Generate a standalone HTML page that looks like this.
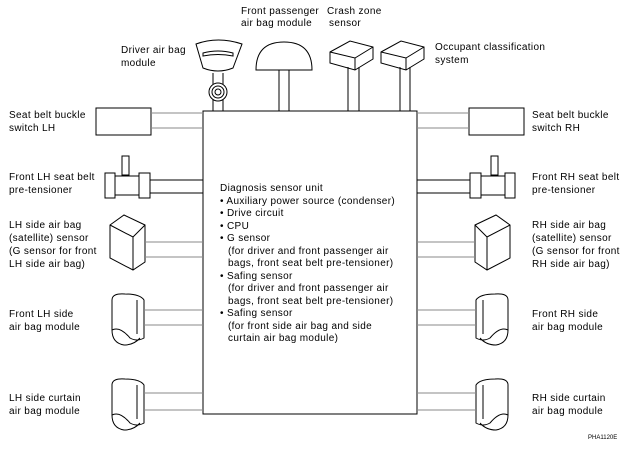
<!DOCTYPE html><html><head><style>body{margin:0;background:#fff}svg{display:block}text{font-family:"Liberation Sans",sans-serif;font-size:10px;fill:#000;letter-spacing:0.35px}</style></head><body>
<svg width="632" height="450" viewBox="0 0 632 450" stroke="#000" fill="none" stroke-width="1">
<rect x="203" y="111" width="214" height="303"/>
<path d="M196 44 Q218 36 242 44 L233 68 Q218 74 203 68 Z"/>
<path d="M203 53 Q218 49 233 53 L233 56 Q218 53 203 56 Z"/>
<line x1="213" y1="73" x2="213" y2="111"/><line x1="223" y1="73" x2="223" y2="111"/>
<circle cx="218" cy="92" r="9" fill="#fff"/><circle cx="218" cy="92" r="6"/><circle cx="218" cy="92" r="3"/>
<path d="M256 70 Q256 42 284 42 Q312 42 312 70 Z"/>
<line x1="279" y1="70" x2="279" y2="111"/><line x1="289" y1="70" x2="289" y2="111"/>
<path d="M330 52 L350 41 L373 47 L373 59 L355 70 L330 63 Z M330 52 L355 58 L373 47 M355 58 L355 70"/>
<line x1="348" y1="67" x2="348" y2="111"/><line x1="359" y1="67" x2="359" y2="111"/>
<path d="M381 52 L401 41 L424 47 L424 59 L406 70 L381 63 Z M381 52 L406 58 L424 47 M406 58 L406 70"/>
<line x1="400" y1="67" x2="400" y2="111"/><line x1="410" y1="67" x2="410" y2="111"/>
<g id="L">
<rect x="96" y="108" width="55" height="27"/>
<line x1="151" y1="113" x2="203" y2="113" stroke="#888"/><line x1="151" y1="128" x2="203" y2="128" stroke="#888"/>
<rect x="122" y="156" width="7" height="19"/>
<rect x="105" y="173" width="10" height="25"/><rect x="115" y="176" width="24" height="19"/><rect x="139" y="173" width="11" height="25"/>
<line x1="150" y1="180" x2="203" y2="180"/><line x1="150" y1="193" x2="203" y2="193"/>
<path d="M110 225 L124 215 L145 225 L145 262 L133 270 L110 258 Z M110 225 L133 237 L145 225 M133 237 L133 270"/>
<line x1="145" y1="242" x2="203" y2="242" stroke="#888"/><line x1="145" y1="257" x2="203" y2="257" stroke="#888"/>
<path d="M112 300 Q112 293 125 294 Q140 294 144 300 L144 338 Q137 342 130 338 Q120 326 112 330 Z M112 330 Q112 343 124 345 Q134 345 140 338 M137 300 L137 334"/>
<line x1="144" y1="310" x2="203" y2="310" stroke="#888"/><line x1="144" y1="325" x2="203" y2="325" stroke="#888"/>
<path d="M112 385 Q112 378 125 379 Q140 379 144 385 L144 423 Q137 427 130 423 Q120 411 112 415 Z M112 415 Q112 428 124 430 Q134 430 140 423 M137 385 L137 419"/>
<line x1="144" y1="393" x2="203" y2="393" stroke="#888"/><line x1="144" y1="410" x2="203" y2="410" stroke="#888"/>
</g>
<use href="#L" transform="translate(620 0) scale(-1 1)"/>
<g stroke="none">
<text x="241" y="14">Front passenger</text><text x="241" y="26">air bag module</text>
<text x="327" y="14">Crash zone</text><text x="329" y="26">sensor</text>
<text x="121" y="53">Driver air bag</text><text x="121" y="66">module</text>
<text x="435" y="50">Occupant classification</text><text x="435" y="63">system</text>
<text x="9" y="118">Seat belt buckle</text><text x="9" y="131">switch LH</text>
<text x="9" y="180">Front LH seat belt</text><text x="9" y="193">pre-tensioner</text>
<text x="9" y="228">LH side air bag</text><text x="9" y="241">(satellite) sensor</text><text x="9" y="254">(G sensor for front</text><text x="9" y="267">LH side air bag)</text>
<text x="9" y="317">Front LH side</text><text x="9" y="330">air bag module</text>
<text x="9" y="401">LH side curtain</text><text x="9" y="414">air bag module</text>
<text x="532" y="118">Seat belt buckle</text><text x="532" y="131">switch RH</text>
<text x="532" y="180">Front RH seat belt</text><text x="532" y="193">pre-tensioner</text>
<text x="532" y="228">RH side air bag</text><text x="532" y="241">(satellite) sensor</text><text x="532" y="254">(G sensor for front</text><text x="532" y="267">RH side air bag)</text>
<text x="532" y="317">Front RH side</text><text x="532" y="330">air bag module</text>
<text x="532" y="401">RH side curtain</text><text x="532" y="414">air bag module</text>
<text x="220" y="191">Diagnosis sensor unit</text>
<text x="220" y="204">• Auxiliary power source (condenser)</text>
<text x="220" y="216">• Drive circuit</text>
<text x="220" y="229">• CPU</text>
<text x="220" y="241">• G sensor</text>
<text x="228" y="254">(for driver and front passenger air</text>
<text x="228" y="266">bags, front seat belt pre-tensioner)</text>
<text x="220" y="279">• Safing sensor</text>
<text x="228" y="291">(for driver and front passenger air</text>
<text x="228" y="304">bags, front seat belt pre-tensioner)</text>
<text x="220" y="316">• Safing sensor</text>
<text x="228" y="329">(for front side air bag and side</text>
<text x="228" y="341">curtain air bag module)</text>
<text x="588" y="439" style="font-size:6px;letter-spacing:0">PHA1120E</text>
</g>
</svg></body></html>
